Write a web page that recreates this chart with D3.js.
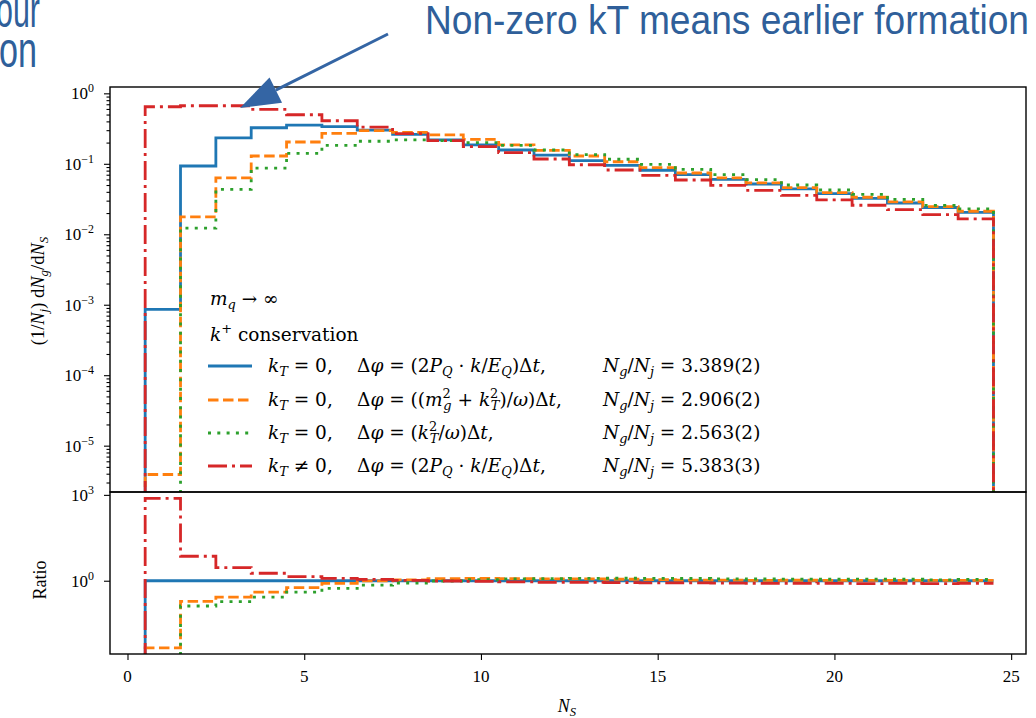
<!DOCTYPE html>
<html>
<head>
<meta charset="utf-8">
<script src="https://cdn.jsdelivr.net/npm/d3@7"></script>
<style>
  html, body { margin: 0; padding: 0; background: #fff; }
  svg { display: block; }
  text { white-space: pre; }
</style>
</head>
<body>
<svg id="chart" width="1036" height="718"></svg>
<script>
// Gluon multiplicity per N_S bin, normalised per jet
const nS = d3.range(1, 25);
const seriesBlue = [8.6e-4, 0.093, 0.234, 0.325, 0.355, 0.336, 0.300, 0.262, 0.218, 0.185, 0.157, 0.133,
                    0.111, 0.095, 0.081, 0.070, 0.060, 0.0517, 0.044, 0.0377, 0.0324, 0.0278, 0.024, 0.0205];
const seriesOrange = [3.9e-6, 0.0176, 0.063, 0.129, 0.204, 0.271, 0.295, 0.280, 0.257, 0.222, 0.185, 0.155,
                      0.129, 0.107, 0.088, 0.074, 0.063, 0.0535, 0.0458, 0.039, 0.0335, 0.0288, 0.0247, 0.0212];
const seriesGreen = [0, 0.0122, 0.0435, 0.087, 0.141, 0.183, 0.209, 0.218, 0.213, 0.200, 0.183, 0.157,
                     0.135, 0.116, 0.098, 0.0836, 0.070, 0.0595, 0.050, 0.0425, 0.0369, 0.0313, 0.0257, 0.0229];
const seriesRed = [0.645, 0.667, 0.667, 0.593, 0.497, 0.408, 0.332, 0.268, 0.213, 0.175, 0.144, 0.117,
                   0.097, 0.0817, 0.0687, 0.0589, 0.0495, 0.042, 0.0357, 0.0307, 0.0258, 0.0223, 0.019, 0.0165];
const ratioRef = seriesBlue;

const xTicks = [0, 5, 10, 15, 20, 25];
const yTopTicks = [0, -1, -2, -3, -4, -5];   // exponents
const yRatioTicks = [3, 0];                  // exponents
const nRatios = ["3.389(2)", "2.906(2)", "2.563(2)", "5.383(3)"];
const noteText = "Non-zero kT means earlier formation";

const colors = ["#1f77b4", "#ff7f0e", "#2ca02c", "#d62728"];
const dashes = [null, "10.5,4.5", "3,6.3", "19,5,3,5"];
const allSeries = [seriesBlue, seriesOrange, seriesGreen, seriesRed];

const svg = d3.select("#chart");
svg.append("rect").attr("width", 1036).attr("height", 718).attr("fill", "#fff");

const L = 110, R = 1026, T1 = 87, B1 = 492, B2 = 654;
const x = d3.scaleLinear().domain([-0.495, 25.42]).range([L, R]);
const yTop = d3.scaleLog().domain([2.2e-6, 1.23]).range([B1, T1]);
const yRat = d3.scaleLog().domain([Math.pow(10, -2.56), Math.pow(10, 3.1)]).range([B2, B1]);

const serif = "'Liberation Serif', 'DejaVu Serif', serif";
const mathSerif = "'DejaVu Serif', 'Liberation Serif', serif";

// Render a small piece of math: parts are [text, flags, dx] where flags may hold
// 'i' (italic), '_' (subscript) or '^' (superscript)
function tex(g, px, py, parts, size, anchor, family) {
  const t = g.append("text").attr("x", px).attr("y", py)
    .attr("font-family", family || serif).attr("font-size", size)
    .attr("text-anchor", anchor || "start").attr("fill", "#000");
  let cur = 0;
  parts.forEach(p => {
    const s = p[0], f = p[1] || "";
    let off = 0, fs = size;
    if (f.includes("_")) { off = 0.24 * size; fs = 0.7 * size; }
    if (f.includes("^")) { off = -0.42 * size; fs = 0.7 * size; }
    const ts = t.append("tspan").text(s).attr("font-size", fs).attr("dy", off - cur);
    if (f.includes("i")) ts.attr("font-style", "italic");
    if (p[2] !== undefined) ts.attr("dx", p[2]);
    cur = off;
  });
  return t;
}

// clip regions for the two panels
const defs = svg.append("defs");
defs.append("clipPath").attr("id", "clipTop").append("rect")
  .attr("x", L).attr("y", T1).attr("width", R - L).attr("height", B1 - T1);
defs.append("clipPath").attr("id", "clipRat").append("rect")
  .attr("x", L).attr("y", B1).attr("width", R - L).attr("height", B2 - B1);

// step path over bin edges; zero values fall below the panel
function stepPath(vals, yScale, floorY, dropAtEnd) {
  const pts = [[0.5, null]];
  vals.forEach((v, i) => pts.push([nS[i] - 0.5, v]));
  pts.push([nS[nS.length - 1] + 0.5, vals[vals.length - 1]]);
  if (dropAtEnd) pts.push([nS[nS.length - 1] + 0.5, null]);
  const line = d3.line()
    .x(d => x(d[0]))
    .y(d => (d[1] && d[1] > 0) ? yScale(d[1]) : floorY)
    .curve(d3.curveStepAfter);
  return line(pts);
}

// upper panel histograms
const gTop = svg.append("g").attr("clip-path", "url(#clipTop)");
allSeries.forEach((s, k) => {
  gTop.append("path").attr("d", stepPath(s, yTop, B1 + 40, true))
    .attr("fill", "none").attr("stroke", colors[k]).attr("stroke-width", 2.8)
    .attr("stroke-dasharray", dashes[k]).attr("stroke-linejoin", "miter");
});

// ratio panel
const gRat = svg.append("g").attr("clip-path", "url(#clipRat)");
allSeries.forEach((s, k) => {
  const r = s.map((v, i) => v / ratioRef[i]);
  gRat.append("path").attr("d", stepPath(r, yRat, B2 + 40, false))
    .attr("fill", "none").attr("stroke", colors[k]).attr("stroke-width", 2.8)
    .attr("stroke-dasharray", dashes[k]).attr("stroke-linejoin", "miter");
});

// frames
svg.append("rect").attr("x", L).attr("y", T1).attr("width", R - L).attr("height", B1 - T1)
  .attr("fill", "none").attr("stroke", "#000").attr("stroke-width", 1.4);
svg.append("rect").attr("x", L).attr("y", B1).attr("width", R - L).attr("height", B2 - B1)
  .attr("fill", "none").attr("stroke", "#000").attr("stroke-width", 1.4);

// upper y axis: decades plus minor ticks
const minorTop = [];
for (let e = -6; e <= 0; e++) for (let m = 2; m <= 9; m++) {
  const v = m * Math.pow(10, e);
  if (v >= 2.2e-6 && v <= 1.23) minorTop.push(v);
}
const axTopMajor = svg.append("g").attr("transform", `translate(${L},0)`)
  .call(d3.axisLeft(yTop).tickValues(yTopTicks.map(e => Math.pow(10, e))).tickFormat("").tickSize(6));
const axTopMinor = svg.append("g").attr("transform", `translate(${L},0)`)
  .call(d3.axisLeft(yTop).tickValues(minorTop).tickFormat("").tickSize(3.5));
const axRat = svg.append("g").attr("transform", `translate(${L},0)`)
  .call(d3.axisLeft(yRat).tickValues(yRatioTicks.map(e => Math.pow(10, e))).tickFormat("").tickSize(6));
const axX = svg.append("g").attr("transform", `translate(0,${B2})`)
  .call(d3.axisBottom(x).tickValues(xTicks).tickFormat("").tickSize(6));
[axTopMajor, axTopMinor, axRat, axX].forEach(a => {
  a.select(".domain").remove();
  a.selectAll(".tick line").attr("stroke", "#000").attr("stroke-width", 1.1);
});

// tick labels
const fmtExp = e => (e < 0 ? "\u2212" + (-e) : String(e));
yTopTicks.forEach(e => {
  tex(svg, 94, yTop(Math.pow(10, e)) + 6, [["10"], [fmtExp(e), "^"]], 17, "end");
});
yRatioTicks.forEach(e => {
  tex(svg, 94, yRat(Math.pow(10, e)) + 6, [["10"], [fmtExp(e), "^"]], 17, "end");
});
xTicks.forEach(v => {
  svg.append("text").attr("x", x(v)).attr("y", 682).attr("text-anchor", "middle")
    .attr("font-family", serif).attr("font-size", 17).text(v);
});

// axis titles
tex(svg, 567, 712, [["N", "i"], ["S", "i_"]], 18, "middle");
const yl = svg.append("g").attr("transform", "translate(44,291) rotate(-90)");
tex(yl, 0, 0, [["(1/"], ["N", "i"], ["j", "i_"], [") d"], ["N", "i"], ["g", "i_"], ["/d"], ["N", "i"], ["S", "i_"]], 18.5, "middle");
const rl = svg.append("g").attr("transform", "translate(46,580) rotate(-90)");
tex(rl, 0, 0, [["Ratio"]], 18, "middle");

// legend
const LS = 18.5;
const lg = svg.append("g");
tex(lg, 210, 305, [["m", "i"], ["q", "i_"], [" \u2192 \u221e"]], LS, "start", mathSerif);
tex(lg, 210, 341, [["k", "i"], ["+", "^"], [" conservation"]], LS, "start", mathSerif);
const col1 = [
  [["k", "i"], ["T", "i_"], [" = 0,"]],
  [["k", "i"], ["T", "i_"], [" = 0,"]],
  [["k", "i"], ["T", "i_"], [" = 0,"]],
  [["k", "i"], ["T", "i_"], [" \u2260 0,"]]
];
const dphiA = [["\u0394"], ["\u03c6", "i"], [" = (2"], ["P", "i"], ["Q", "i_"], [" \u00b7 "], ["k", "i"], ["/"], ["E", "i"], ["Q", "i_"], [")\u0394"], ["t", "i"], [","]];
const col2 = [
  dphiA,
  [["\u0394"], ["\u03c6", "i"], [" = (("], ["m", "i"], ["2", "^"], ["g", "i_", -7.5], [" + "], ["k", "i"], ["2", "^"], ["T", "i_", -7.5], [")/"], ["\u03c9", "i"], [")\u0394"], ["t", "i"], [","]],
  [["\u0394"], ["\u03c6", "i"], [" = ("], ["k", "i"], ["2", "^"], ["T", "i_", -7.5], ["/"], ["\u03c9", "i"], [")\u0394"], ["t", "i"], [","]],
  dphiA
];
const rowY = [366, 400, 433, 466];
rowY.forEach((ry, k) => {
  lg.append("line").attr("x1", 208).attr("x2", 252).attr("y1", ry).attr("y2", ry)
    .attr("stroke", colors[k]).attr("stroke-width", 2.8).attr("stroke-dasharray", dashes[k]);
  tex(lg, 268, ry + 6, col1[k], LS, "start", mathSerif);
  tex(lg, 357, ry + 6, col2[k], LS, "start", mathSerif);
  tex(lg, 603, ry + 6, [["N", "i"], ["g", "i_"], ["/"], ["N", "i"], ["j", "i_"], [" = " + nRatios[k]]], LS, "start", mathSerif);
});

// annotation with arrow
const noteColor = "#2f5f9a";
const noteFont = "'Liberation Sans Narrow', 'Liberation Sans', sans-serif";
const ann = svg.append("g");
ann.append("text").attr("x", 425).attr("y", 34).attr("font-family", noteFont)
  .attr("font-size", 40).attr("fill", noteColor).attr("textLength", 604).attr("lengthAdjust", "spacingAndGlyphs")
  .text(noteText);
ann.append("text").attr("x", -4).attr("y", 27).attr("font-family", noteFont).attr("font-size", 50)
  .attr("fill", noteColor).attr("textLength", 44).attr("lengthAdjust", "spacingAndGlyphs").text("our");
ann.append("text").attr("x", -1).attr("y", 67).attr("font-family", noteFont).attr("font-size", 50)
  .attr("fill", noteColor).attr("textLength", 38).attr("lengthAdjust", "spacingAndGlyphs").text("on");

const tail = [388, 34], tip = [240, 108];
const dx = tip[0] - tail[0], dy = tip[1] - tail[1], len = Math.hypot(dx, dy);
const ux = dx / len, uy = dy / len, headL = 40, headW = 14;
const bx = tip[0] - headL * ux, by = tip[1] - headL * uy;
ann.append("line").attr("x1", tail[0]).attr("y1", tail[1]).attr("x2", bx).attr("y2", by)
  .attr("stroke", "#3465a4").attr("stroke-width", 3);
ann.append("path")
  .attr("d", `M${tip[0]},${tip[1]}L${bx - headW * uy},${by + headW * ux}L${bx + headW * uy},${by - headW * ux}Z`)
  .attr("fill", "#3465a4");
</script>
</body>
</html>
